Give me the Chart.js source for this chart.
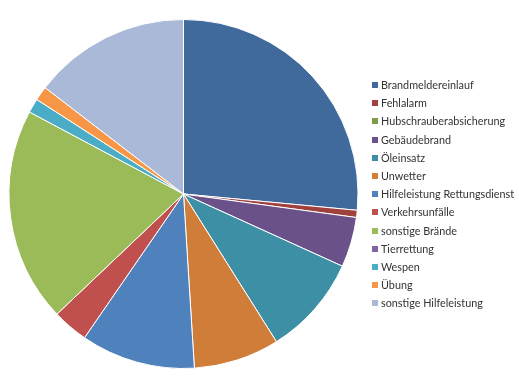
<!DOCTYPE html>
<html>
<head>
<meta charset="utf-8">
<script src="https://cdn.jsdelivr.net/npm/chart.js@4/dist/chart.umd.min.js"></script>
<style>
  html, body { margin: 0; padding: 0; background: #fff; }
  #wrap { width: 519px; height: 389px; }
</style>
</head>
<body>
<div id="wrap"><canvas id="grafico" width="519" height="389"></canvas></div>
<script>
var kategorien = ['Brandmeldereinlauf', 'Fehlalarm', 'Hubschrauberabsicherung', 'Gebäudebrand',
    'Öleinsatz', 'Unwetter', 'Hilfeleistung Rettungsdienst', 'Verkehrsunfälle',
    'sonstige Brände', 'Tierrettung', 'Wespen', 'Übung', 'sonstige Hilfeleistung'];
var einsaetze = [40, 1, 0, 7, 14, 12, 16, 5, 30, 0, 2, 2, 22];
var farben = ['#416a9c', '#a0413e', '#7f9a48', '#6a5189', '#3c8fa4', '#cf7d38',
    '#4f81bd', '#c0504d', '#9bbb59', '#8064a2', '#4bacc6', '#f79646', '#a9b9d7'];

// Legende rechts selbst zeichnen (Position wie im Original)
var legendeRechts = {
    id: 'legendeRechts',
    afterDraw: function(chart) {
        var c = chart.ctx;
        var labels = chart.data.labels;
        var cols = chart.data.datasets[0].backgroundColor;
        c.save();
        c.font = '10.8px Lato';
        c.textBaseline = 'middle';
        for (var i = 0; i < labels.length; i++) {
            var y = 85 + i * 18.19;
            c.fillStyle = cols[i];
            c.fillRect(372, Math.round(y - 3), 6, 6);
            c.fillStyle = '#333333';
            c.fillText(labels[i], 381, y + 0.5);
        }
        c.restore();
    }
};

var ctx = document.getElementById('grafico').getContext('2d');

new Chart(ctx, {
    type: 'pie',
    data: {
        labels: kategorien,
        datasets: [{
            data: einsaetze,
            backgroundColor: farben,
            borderColor: '#ffffff',
            borderWidth: 1
        }]
    },
    options: {
        responsive: false,
        animation: false,
        layout: {
            padding: { left: 8.5, top: 19, bottom: 20, right: 160.5 }
        },
        plugins: {
            tooltip: { enabled: false },
            legend: { display: false }
        }
    },
    plugins: [legendeRechts]
});
</script>
</body>
</html>
